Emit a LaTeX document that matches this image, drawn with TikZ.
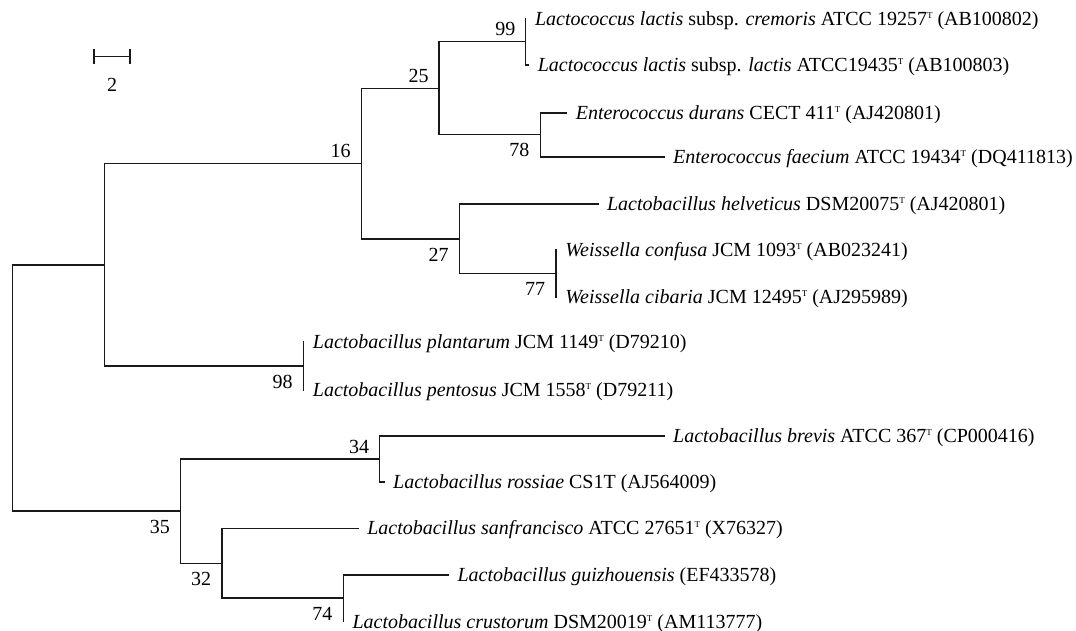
\documentclass[tikz,border=0pt]{standalone}
\usepackage{fontspec}
\setmainfont{Liberation Serif}
\usetikzlibrary{positioning}
\tikzstyle{branch} = [line width=1.3pt, black!90, line cap=rect]
\tikzstyle{taxon} = [anchor=base west, inner sep=0pt, xshift=9pt, yshift=-6.5pt]
\tikzstyle{boot} = [inner sep=0pt, anchor=center]
\tikzstyle{bootup} = [boot, xshift=-20.5pt, yshift=12.5pt]
\tikzstyle{bootdown} = [boot, xshift=-21pt, yshift=-16pt]
\newcommand{\typestrain}{\raisebox{7pt}{\fontsize{9}{9}\selectfont T}}

\begin{document}
\begin{tikzpicture}[x=1pt, y=-1pt, font=\fontsize{20}{24}\selectfont]
    \useasboundingbox (0,0) rectangle (1076,630);

    % inner nodes of the tree
    \coordinate (root) at (12.4,388);
    \coordinate (nA)   at (104.3,265);
    \coordinate (n16)  at (361.2,163.3);
    \coordinate (n25)  at (439,88.3);
    \coordinate (n99)  at (525.8,41.7);
    \coordinate (n78)  at (540.4,134.3);
    \coordinate (n27)  at (459.7,239);
    \coordinate (n77)  at (556.1,273.3);
    \coordinate (n98)  at (303.7,366);
    \coordinate (n35)  at (180.8,511);
    \coordinate (n34)  at (379.5,459);
    \coordinate (n32)  at (222.1,563.3);
    \coordinate (n74)  at (343.3,598);

    % leaves
    \coordinate (cremoris)  at (525.8,19);
    \coordinate (lactis)    at (528.6,65);
    \coordinate (durans)    at (566.6,113);
    \coordinate (faecium)   at (664,157);
    \coordinate (helveticus) at (597.9,204);
    \coordinate (confusa)   at (556.1,250);
    \coordinate (cibaria)   at (556.1,297);
    \coordinate (plantarum) at (303.7,342);
    \coordinate (pentosus)  at (303.7,390);
    \coordinate (brevis)    at (664,436);
    \coordinate (rossiae)   at (384,482);
    \coordinate (sanfran)   at (358.1,528.3);
    \coordinate (guizhou)   at (448.3,575);
    \coordinate (crustorum) at (343.3,621.7);

    % branches
    \draw[branch] (root) |- (nA);   \draw[branch] (root) |- (n35);
    \draw[branch] (nA) |- (n16);    \draw[branch] (nA) |- (n98);
    \draw[branch] (n16) |- (n25);   \draw[branch] (n16) |- (n27);
    \draw[branch] (n25) |- (n99);   \draw[branch] (n25) |- (n78);
    \draw[branch] (n99) |- (cremoris); \draw[branch] (n99) |- (lactis);
    \draw[branch] (n78) |- (durans);   \draw[branch] (n78) |- (faecium);
    \draw[branch] (n27) |- (helveticus); \draw[branch] (n27) |- (n77);
    \draw[branch] (n77) |- (confusa);  \draw[branch] (n77) |- (cibaria);
    \draw[branch] (n98) |- (plantarum); \draw[branch] (n98) |- (pentosus);
    \draw[branch] (n35) |- (n34);   \draw[branch] (n35) |- (n32);
    \draw[branch] (n34) |- (brevis);   \draw[branch] (n34) |- (rossiae);
    \draw[branch] (n32) |- (sanfran);  \draw[branch] (n32) |- (n74);
    \draw[branch] (n74) |- (guizhou);  \draw[branch] (n74) |- (crustorum);

    % taxon names
    \node (tcremoris) [taxon] at (cremoris) {\textit{Lactococcus lactis} subsp. \textit{cremoris} ATCC 19257\typestrain{} (AB100802)};
    \node (tlactis) [taxon] at (lactis) {\textit{Lactococcus lactis} subsp. \textit{lactis} ATCC19435\typestrain{} (AB100803)};
    \node (tdurans) [taxon] at (durans) {\textit{Enterococcus durans} CECT 411\typestrain{} (AJ420801)};
    \node (tfaecium) [taxon] at (faecium) {\textit{Enterococcus faecium} ATCC 19434\typestrain{} (DQ411813)};
    \node (thelveticus) [taxon] at (helveticus) {\textit{Lactobacillus helveticus} DSM20075\typestrain{} (AJ420801)};
    \node (tconfusa) [taxon] at (confusa) {\textit{Weissella confusa} JCM 1093\typestrain{} (AB023241)};
    \node (tcibaria) [taxon] at (cibaria) {\textit{Weissella cibaria} JCM 12495\typestrain{} (AJ295989)};
    \node (tplantarum) [taxon] at (plantarum) {\textit{Lactobacillus plantarum} JCM 1149\typestrain{} (D79210)};
    \node (tpentosus) [taxon] at (pentosus) {\textit{Lactobacillus pentosus} JCM 1558\typestrain{} (D79211)};
    \node (tbrevis) [taxon] at (brevis) {\textit{Lactobacillus brevis} ATCC 367\typestrain{} (CP000416)};
    \node (trossiae) [taxon] at (rossiae) {\textit{Lactobacillus rossiae} CS1T (AJ564009)};
    \node (tsanfran) [taxon] at (sanfran) {\textit{Lactobacillus sanfrancisco} ATCC 27651\typestrain{} (X76327)};
    \node (tguizhou) [taxon] at (guizhou) {\textit{Lactobacillus guizhouensis} (EF433578)};
    \node (tcrustorum) [taxon] at (crustorum) {\textit{Lactobacillus crustorum} DSM20019\typestrain{} (AM113777)};

    % bootstrap values
    \node (b99) [bootup] at (n99) {99};
    \node (b25) [bootup] at (n25) {25};
    \node (b16) [bootup] at (n16) {16};
    \node (b34) [bootup] at (n34) {34};
    \node (b78) [bootdown] at (n78) {78};
    \node (b27) [bootdown] at (n27) {27};
    \node (b77) [bootdown] at (n77) {77};
    \node (b98) [bootdown] at (n98) {98};
    \node (b35) [bootdown] at (n35) {35};
    \node (b32) [bootdown] at (n32) {32};
    \node (b74) [bootdown] at (n74) {74};

    % scale bar
    \coordinate (sbL) at (94,56.7);
    \coordinate (sbR) at (130,56.7);
    \coordinate (sbM) at (112,56.7);
    \draw[branch, line cap=butt] (sbL) -- (sbR);
    \draw[branch, line cap=butt] ([yshift=7.5pt]sbL) -- ([yshift=-7.5pt]sbL);
    \draw[branch, line cap=butt] ([yshift=7.5pt]sbR) -- ([yshift=-7.5pt]sbR);
    \node (sblabel) [inner sep=0pt, below=21pt of sbM] {2};
\end{tikzpicture}
\end{document}
